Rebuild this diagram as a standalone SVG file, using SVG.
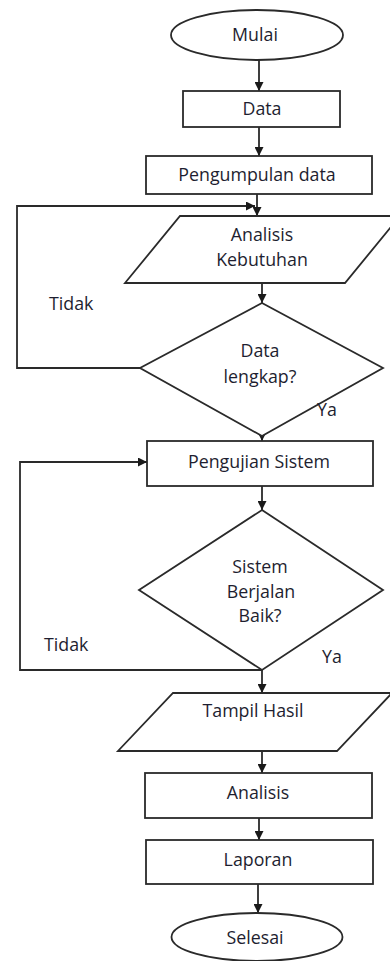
<svg xmlns="http://www.w3.org/2000/svg" width="390" height="961" viewBox="0 0 390 961">
<style>
.s{fill:#fff;stroke:#2a2a2a;stroke-width:1.8}
.c{fill:none;stroke:#2a2a2a;stroke-width:1.8}
text{font-family:"Open Sans","DejaVu Sans",sans-serif;font-size:17.8px;fill:#1e1e30}
.m{text-anchor:middle}
</style>
<defs>
<marker id="a" markerUnits="userSpaceOnUse" markerWidth="9" markerHeight="9" refX="9" refY="4.5" orient="auto">
<path d="M0,0 L9,4.5 L0,9 z" fill="#1a1a1a"/>
</marker>
</defs>
<rect width="390" height="961" fill="#fff"/>
<g id="connectors">
<line class="c" x1="259" y1="60" x2="259" y2="91" marker-end="url(#a)"/>
<line class="c" x1="259" y1="127" x2="259" y2="156" marker-end="url(#a)"/>
<line class="c" x1="257" y1="194" x2="257" y2="216" marker-end="url(#a)"/>
<polyline class="c" points="140,368 17,368 17,206 255,206" marker-end="url(#a)"/>
<line class="c" x1="262" y1="283" x2="262" y2="303" marker-end="url(#a)"/>
<line class="c" x1="262" y1="433" x2="262" y2="441" marker-end="url(#a)"/>
<polyline class="c" points="262,670 20,670 20,462 147,462" marker-end="url(#a)"/>
<line class="c" x1="262" y1="486" x2="262" y2="510" marker-end="url(#a)"/>
<line class="c" x1="262" y1="670" x2="262" y2="693" marker-end="url(#a)"/>
<line class="c" x1="262" y1="751" x2="262" y2="773" marker-end="url(#a)"/>
<line class="c" x1="259" y1="818" x2="259" y2="840" marker-end="url(#a)"/>
<line class="c" x1="258" y1="884" x2="258" y2="913" marker-end="url(#a)"/>
</g>
<g id="mulai">
<ellipse class="s" cx="257" cy="35" rx="86" ry="25"/>
<text class="m" x="255" y="41">Mulai</text>
</g>
<g id="data">
<rect class="s" x="183" y="91" width="157" height="36"/>
<text class="m" x="262" y="115">Data</text>
</g>
<g id="pengumpulan">
<rect class="s" x="146" y="156" width="226" height="38"/>
<text class="m" x="257" y="181">Pengumpulan data</text>
</g>
<g id="analisis-kebutuhan">
<polygon class="s" points="180,216 400,216 345,283 125,283"/>
<text class="m" x="262" y="241">Analisis</text>
<text class="m" x="262" y="266">Kebutuhan</text>
</g>
<g id="data-lengkap">
<polygon class="s" points="262,303 383,368 262,436 140,368"/>
<text class="m" x="260" y="357">Data</text>
<text class="m" x="260" y="383">lengkap?</text>
</g>
<text x="49" y="310">Tidak</text>
<text x="317" y="416">Ya</text>
<g id="pengujian">
<rect class="s" x="147" y="441" width="226" height="45"/>
<text class="m" x="259" y="468">Pengujian Sistem</text>
</g>
<g id="sistem-baik">
<polygon class="s" points="262,510 383,590 262,670 139,590"/>
<text class="m" x="260" y="573">Sistem</text>
<text class="m" x="261" y="598">Berjalan</text>
<text class="m" x="260" y="622">Baik?</text>
</g>
<text x="44" y="651">Tidak</text>
<text x="322" y="663">Ya</text>
<g id="tampil-hasil">
<polygon class="s" points="173,693 392,693 337,751 118,751"/>
<text class="m" x="253" y="717">Tampil Hasil</text>
</g>
<g id="analisis">
<rect class="s" x="145" y="773" width="227" height="45"/>
<text class="m" x="258" y="799">Analisis</text>
</g>
<g id="laporan">
<rect class="s" x="146" y="840" width="227" height="44"/>
<text class="m" x="258" y="866">Laporan</text>
</g>
<g id="selesai">
<ellipse class="s" cx="257" cy="937" rx="85.5" ry="24"/>
<text class="m" x="255" y="944">Selesai</text>
</g>
</svg>
